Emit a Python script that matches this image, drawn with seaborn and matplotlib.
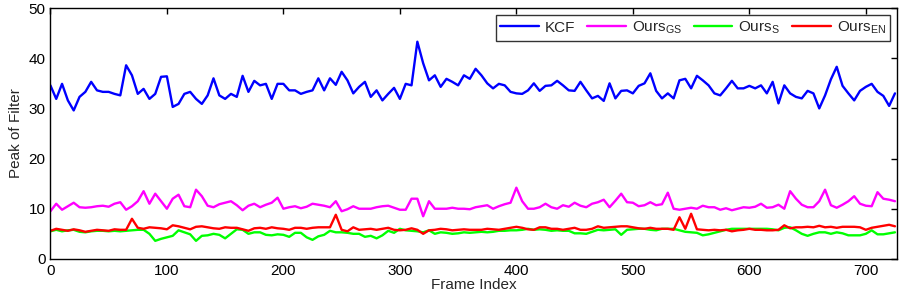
import numpy as np
import pandas as pd
import matplotlib
matplotlib.use('Agg')
import matplotlib.pyplot as plt
import seaborn as sns

# --- data (every 5th frame) ---
frames = list(range(0, 730, 5))

kcf = [34.6, 31.9, 34.9, 31.6, 29.6, 32.3, 33.3, 35.3, 33.6, 33.3, 33.3, 32.9, 32.6, 38.6, 36.6, 32.9, 33.9, 31.9, 32.9, 36.3, 36.4, 30.3, 30.9, 32.9, 33.3,
       31.9, 30.9, 32.6, 36.0, 32.6, 31.9, 32.9, 32.3, 36.5, 33.3, 35.5, 34.6, 34.9, 31.9, 34.9, 34.9, 33.6, 33.6, 32.9, 33.3, 33.6, 36.0, 33.6, 36.0, 34.7,
       37.3, 35.6, 33.0, 34.3, 35.3, 32.3, 33.6, 31.6, 32.9, 34.1, 31.9, 34.9, 34.6, 43.3, 39.0, 35.6, 36.6, 34.3, 35.9, 35.3, 34.6, 36.6, 35.9, 37.9, 36.6,
       35.0, 34.0, 34.9, 34.6, 33.3, 33.0, 32.9, 33.6, 35.0, 33.5, 34.5, 34.6, 35.5, 34.6, 33.6, 33.5, 35.3, 33.6, 32.0, 32.5, 31.5, 35.0, 32.0, 33.5, 33.6,
       33.0, 34.5, 35.0, 37.0, 33.5, 32.0, 33.0, 32.0, 35.6, 35.9, 34.0, 36.5, 35.6, 34.6, 33.0, 32.6, 34.0, 35.5, 34.0, 34.0, 34.5, 34.0, 34.6, 33.0, 35.3,
       31.0, 34.6, 33.0, 32.3, 32.0, 33.5, 33.0, 30.0, 32.6, 35.8, 38.3, 34.5, 33.0, 31.6, 33.5, 34.3, 34.9, 33.3, 32.5, 30.5, 33.0]

ours_gs = [9.5, 11.0, 9.8, 10.5, 11.2, 10.3, 10.2, 10.3, 10.5, 10.6, 10.4, 11.0, 11.3, 9.8, 10.5, 11.5, 13.5, 11.0, 13.0, 11.5, 10.0, 12.0, 12.8, 10.5, 10.3,
           13.8, 12.5, 10.6, 10.3, 10.9, 11.2, 11.5, 10.7, 9.7, 10.6, 11.0, 10.3, 10.8, 11.2, 12.2, 10.0, 10.3, 10.5, 10.1, 10.4, 11.0, 10.8, 10.6, 10.3, 11.5,
           9.5, 9.9, 10.5, 10.0, 10.0, 10.0, 10.3, 10.5, 10.6, 10.2, 9.8, 9.8, 12.0, 12.0, 8.5, 11.5, 10.0, 10.0, 10.0, 10.2, 10.0, 10.0, 9.9, 10.3, 10.5,
           10.7, 10.0, 10.5, 10.9, 11.2, 14.2, 11.5, 10.0, 10.0, 10.3, 11.0, 10.3, 10.0, 10.7, 10.4, 11.2, 10.6, 10.3, 11.0, 11.3, 11.8, 10.3, 11.6, 13.0, 11.3,
           11.2, 10.5, 10.7, 11.3, 10.7, 10.9, 13.2, 10.0, 9.8, 10.0, 10.2, 10.0, 10.6, 10.3, 10.3, 9.8, 10.1, 9.7, 10.0, 10.3, 10.2, 10.4, 11.0, 10.2, 10.3,
           10.8, 10.0, 13.5, 12.0, 10.8, 10.3, 10.3, 11.5, 13.8, 10.7, 10.2, 10.8, 11.5, 12.5, 11.0, 10.6, 10.5, 13.3, 12.0, 11.8, 11.5]

ours_s = [5.5, 5.8, 5.5, 5.7, 5.8, 5.4, 5.3, 5.5, 5.6, 5.6, 5.5, 5.6, 5.5, 5.6, 5.7, 5.8, 5.8, 5.0, 3.6, 4.0, 4.3, 4.6, 5.7, 5.3, 4.9,
          3.6, 4.6, 4.7, 5.0, 4.8, 4.1, 5.0, 5.9, 5.8, 5.0, 5.3, 5.3, 4.8, 4.7, 4.9, 4.8, 4.4, 5.2, 5.2, 4.3, 3.8, 4.5, 4.8, 5.6, 5.3,
          5.3, 5.2, 5.0, 5.0, 4.4, 4.6, 4.1, 4.7, 5.6, 5.2, 6.0, 5.7, 5.6, 5.5, 5.3, 5.7, 5.0, 5.3, 5.2, 5.0, 5.1, 5.3, 5.2, 5.3, 5.4,
          5.3, 5.4, 5.6, 5.6, 5.7, 5.7, 5.8, 6.0, 5.8, 5.9, 5.8, 5.6, 5.7, 5.6, 5.6, 5.1, 5.1, 5.0, 5.4, 5.8, 5.7, 5.8, 5.9, 4.8, 5.8,
          5.9, 6.0, 6.0, 5.8, 5.7, 6.0, 6.0, 6.0, 5.7, 5.4, 5.3, 5.2, 4.7, 4.9, 5.2, 5.5, 5.8, 6.0, 6.0, 6.0, 6.0, 6.0, 6.0, 6.0, 5.9,
          5.7, 6.2, 6.3, 5.7, 5.0, 4.6, 5.0, 5.3, 5.3, 5.0, 5.3, 5.1, 4.7, 4.7, 4.7, 5.0, 5.7, 4.9, 4.9, 5.1, 5.3]

ours_en = [5.6, 6.0, 5.8, 5.6, 5.9, 5.7, 5.4, 5.6, 5.8, 5.7, 5.6, 5.9, 5.8, 5.8, 8.0, 6.2, 6.0, 6.3, 6.2, 6.1, 5.9, 6.7, 6.5, 6.2, 5.9,
           6.4, 6.5, 6.3, 6.1, 6.0, 6.3, 6.2, 6.2, 5.9, 5.6, 6.1, 6.2, 6.0, 6.3, 6.1, 6.0, 5.8, 6.2, 6.2, 6.0, 6.2, 6.3, 6.3, 6.3, 8.8,
           5.8, 5.5, 6.3, 5.8, 5.9, 6.0, 5.8, 6.0, 6.2, 5.8, 5.7, 5.8, 6.1, 5.8, 5.0, 5.7, 5.8, 6.0, 5.9, 5.7, 5.8, 5.9, 5.8, 5.8, 5.8,
           6.0, 5.9, 5.8, 6.0, 6.2, 6.4, 6.2, 5.9, 5.8, 6.3, 6.3, 6.0, 6.0, 5.8, 6.0, 6.2, 5.8, 5.8, 6.0, 6.5, 6.2, 6.3, 6.4, 6.5, 6.5,
           6.3, 6.1, 6.0, 6.2, 6.0, 6.0, 6.0, 5.8, 8.3, 6.0, 9.0, 5.9, 5.8, 5.7, 5.8, 5.7, 5.8, 5.5, 5.7, 5.8, 6.0, 5.8, 5.8, 5.7, 5.7,
           5.8, 6.7, 6.1, 6.3, 6.3, 6.4, 6.3, 6.6, 6.3, 6.4, 6.2, 6.4, 6.4, 6.4, 6.3, 5.8, 6.2, 6.4, 6.6, 6.8, 6.5]

series_names = ['KCF', 'Ours$_{GS}$', 'Ours$_{S}$', 'Ours$_{EN}$']
series_colors = ['#0000ff', '#ff00ff', '#00ff00', '#ff0000']

# --- plot setup (matlab-ish look) ---
sns.set_style('white')
plt.rcParams['font.family'] = ['Liberation Sans', 'DejaVu Sans']
plt.rcParams['mathtext.default'] = 'regular'

fig, ax = plt.subplots(figsize=(9, 3), dpi=100)
fig.subplots_adjust(left=0.056, right=0.997, top=0.973, bottom=0.137)

for name, vals, col in zip(series_names, [kcf, ours_gs, ours_s, ours_en], series_colors):
    sns.lineplot(x=frames, y=vals, color=col, linewidth=1.7, label=name, ax=ax)

ax.set_xlim(0, 727)
ax.set_ylim(0, 50)
ax.set_xticks(range(0, 800, 100))
ax.set_yticks(range(0, 60, 10))
ax.set_xlabel('Frame Index', fontsize=11, labelpad=0)
ax.set_ylabel('Peak of Filter', fontsize=11, labelpad=4)
ax.tick_params(direction='in', top=True, right=True, length=4, width=1, labelsize=11, colors='black')
for sp in ax.spines.values():
    sp.set_color('black')
    sp.set_linewidth(1)

leg = ax.legend(loc='upper right', ncol=4, fontsize=11, frameon=True, fancybox=False,
                edgecolor='black', handlelength=2.5, columnspacing=0.8, handletextpad=0.4,
                borderaxespad=0.45, borderpad=0.3)
leg.get_frame().set_linewidth(1)

fig.savefig('out.png', dpi=100)
